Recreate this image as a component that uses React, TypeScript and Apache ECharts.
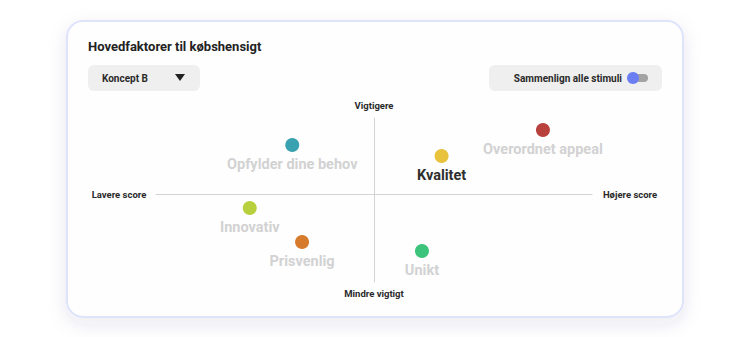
import React, { useEffect, useRef } from "react";
import * as echarts from "echarts";

const factorNames = ["Opfylder dine behov", "Kvalitet", "Overordnet appeal", "Innovativ", "Prisvenlig", "Unikt"];
const scoreValues = [-3.75, 3.1, 7.75, -5.7, -3.3, 2.2];
const importanceValues = [4.9, 3.8, 6.4, -1.4, -4.8, -5.7];
const highlighted = ["Kvalitet"];

const axisLabels = { up: "Vigtigere", down: "Mindre vigtigt", left: "Lavere score", right: "Højere score" };
const scoreRange = [-10, 10];
const importanceRange = [-8.8, 7.6];

const palette = ["#3aa1b0", "#e8c23a", "#b8403d", "#b9d03e", "#d67b2b", "#3cc47c"];

const FONT = "Roboto, 'Noto Sans', sans-serif";

export default function App() {
  const ref = useRef<HTMLDivElement>(null);
  useEffect(() => {
    if (!ref.current) return;
    const chart = echarts.init(ref.current, null, { renderer: "svg" });
    const data = factorNames.map((n, i) => ({
      name: n,
      value: [scoreValues[i], importanceValues[i]],
      itemStyle: { color: palette[i], opacity: 1 },
      label: {
        color: highlighted.includes(n) ? "#2e2e2e" : "#d2d2d2",
      },
    }));
    chart.setOption({
      animation: false,
      backgroundColor: "#ffffff",
      grid: { left: 156, top: 118, width: 436, height: 164, containLabel: false },
      xAxis: {
        type: "value",
        min: scoreRange[0],
        max: scoreRange[1],
        axisLine: { show: true, onZero: true, lineStyle: { color: "#d4d4d4", width: 1 } },
        axisTick: { show: false },
        axisLabel: { show: false },
        splitLine: { show: false },
      },
      yAxis: {
        type: "value",
        min: importanceRange[0],
        max: importanceRange[1],
        axisLine: { show: true, onZero: true, lineStyle: { color: "#d4d4d4", width: 1 } },
        axisTick: { show: false },
        axisLabel: { show: false },
        splitLine: { show: false },
      },
      graphic: [
        {
          type: "rect",
          z: -10,
          silent: true,
          shape: { x: 67, y: 21, width: 616, height: 296, r: 16 },
          style: {
            fill: "#fefeff",
            stroke: "#dfe4fb",
            lineWidth: 2,
            shadowBlur: 18,
            shadowOffsetY: 6,
            shadowColor: "rgba(60,60,90,0.10)",
          },
        },
        {
          type: "text",
          x: 88,
          y: 46,
          style: {
            text: "Hovedfaktorer til købshensigt",
            font: `bold 13px ${FONT}`,
            fill: "#222222",
            verticalAlign: "middle",
          },
        },
        {
          type: "rect",
          shape: { x: 88, y: 65, width: 112, height: 26, r: 6 },
          style: { fill: "#efefef" },
        },
        {
          type: "text",
          x: 102,
          y: 78,
          style: { text: "Koncept B", font: `bold 10px ${FONT}`, fill: "#2a2a2a", verticalAlign: "middle" },
        },
        {
          type: "polygon",
          shape: { points: [[175, 74], [185, 74], [180, 81]] },
          style: { fill: "#222222" },
        },
        {
          type: "rect",
          shape: { x: 489, y: 65, width: 173, height: 26, r: 6 },
          style: { fill: "#efefef" },
        },
        {
          type: "text",
          x: 622,
          y: 78,
          style: {
            text: "Sammenlign alle stimuli",
            font: `bold 10px ${FONT}`,
            fill: "#2a2a2a",
            align: "right",
            verticalAlign: "middle",
          },
        },
        {
          type: "rect",
          shape: { x: 628, y: 74, width: 20, height: 8, r: 4 },
          style: { fill: "#a3a3a3" },
        },
        {
          type: "circle",
          shape: { cx: 633, cy: 78, r: 6 },
          style: { fill: "#6b7ef2" },
        },
        {
          type: "text",
          x: 374,
          y: 105,
          style: { text: axisLabels.up, font: `bold 9.5px ${FONT}`, fill: "#2a2a2a", align: "center", verticalAlign: "middle" },
        },
        {
          type: "text",
          x: 374,
          y: 293,
          style: { text: axisLabels.down, font: `bold 9.5px ${FONT}`, fill: "#2a2a2a", align: "center", verticalAlign: "middle" },
        },
        {
          type: "text",
          x: 119,
          y: 194,
          style: { text: axisLabels.left, font: `bold 9.5px ${FONT}`, fill: "#2a2a2a", align: "center", verticalAlign: "middle" },
        },
        {
          type: "text",
          x: 630,
          y: 194,
          style: { text: axisLabels.right, font: `bold 9.5px ${FONT}`, fill: "#2a2a2a", align: "center", verticalAlign: "middle" },
        },
      ],
      series: [
        {
          type: "scatter",
          symbol: "circle",
          symbolSize: 14,
          data,
          label: {
            show: true,
            position: "bottom",
            distance: 5,
            formatter: "{b}",
            fontFamily: FONT,
            fontWeight: "bold",
            fontSize: 14.5,
          },
        },
      ],
    });
    return () => chart.dispose();
  }, []);
  return (
    <div
      ref={ref}
      style={{ position: "fixed", left: 0, top: 0, width: 750, height: 337 }}
    />
  );
}
